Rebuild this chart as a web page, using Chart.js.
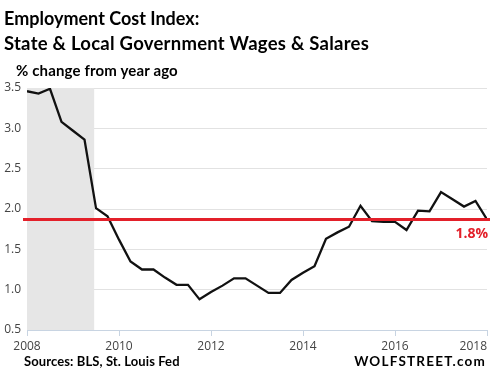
<!DOCTYPE html>
<html lang="en">
  <head>
    <meta charset="UTF-8" />
    <title>Employment Cost Index</title>
    <script src="https://cdn.jsdelivr.net/npm/chart.js"></script>
    <style>
      body {
        margin: 0;
        background: #fff;
      }
      .wrap {
        position: relative;
        width: 492px;
        height: 385px;
        font-family: Lato, sans-serif;
        font-weight: bold;
        color: #000;
      }
      .wrap canvas {
        position: absolute;
        left: 0;
        top: 0;
      }
      .txt {
        position: absolute;
        white-space: nowrap;
        line-height: 1;
      }
      #t1 { left: 4px; top: 9px; font-size: 18px; }
      #t2 { left: 4px; top: 34px; font-size: 18.5px; letter-spacing: 0.25px; }
      #sub { left: 16px; top: 63px; font-size: 15px; letter-spacing: 0.15px; }
      #src { left: 24px; top: 355px; font-size: 13px; letter-spacing: 0.1px; }
      #wolf { right: 6px; top: 355px; font-size: 13.5px; letter-spacing: 1.2px; }
    </style>
  </head>
  <body>
    <div class="wrap">
      <canvas id="eciChart" width="492" height="385"></canvas>
      <div class="txt" id="t1">Employment Cost Index:</div>
      <div class="txt" id="t2">State &amp; Local Government Wages &amp; Salares</div>
      <div class="txt" id="sub">% change from year ago</div>
      <div class="txt" id="src">Sources: BLS, St. Louis Fed</div>
      <div class="txt" id="wolf">WOLFSTREET.com</div>
    </div>

    <script>
      // quarterly, year-over-year % change
      const quarters = [
        2008.0, 2008.25, 2008.5, 2008.75, 2009.0, 2009.25, 2009.5, 2009.75,
        2010.0, 2010.25, 2010.5, 2010.75, 2011.0, 2011.25, 2011.5, 2011.75,
        2012.0, 2012.25, 2012.5, 2012.75, 2013.0, 2013.25, 2013.5, 2013.75,
        2014.0, 2014.25, 2014.5, 2014.75, 2015.0, 2015.25, 2015.5, 2015.75,
        2016.0, 2016.25, 2016.5, 2016.75, 2017.0, 2017.25, 2017.5, 2017.75,
        2018.0,
      ];
      const wageChange = [
        3.46, 3.43, 3.49, 3.08, 2.97, 2.86, 2.01, 1.91,
        1.62, 1.35, 1.25, 1.25, 1.15, 1.06, 1.06, 0.88,
        0.97, 1.05, 1.14, 1.14, 1.05, 0.96, 0.96, 1.12,
        1.21, 1.29, 1.63, 1.71, 1.78, 2.04, 1.85, 1.84,
        1.84, 1.74, 1.98, 1.97, 2.21, 2.12, 2.03, 2.10,
        1.87,
      ];
      const xTicks = [2008, 2010, 2012, 2014, 2016, 2018];
      const yTicks = [0.5, 1.0, 1.5, 2.0, 2.5, 3.0, 3.5];
      const recession = [2007.92, 2009.46];
      const latestLevel = 1.87;
      const latestLabel = "1.8%";

      const points = quarters.map((q, i) => ({ x: q, y: wageChange[i] }));

      // recession shading + red reference line + x labels
      const extras = {
        id: "extras",
        beforeDatasetsDraw(chart) {
          const { ctx, chartArea, scales } = chart;
          const x0 = Math.max(scales.x.getPixelForValue(recession[0]), chartArea.left);
          const x1 = scales.x.getPixelForValue(recession[1]);
          ctx.save();
          ctx.fillStyle = "#e6e6e6";
          ctx.fillRect(x0, chartArea.top, x1 - x0, chartArea.bottom - chartArea.top);
          ctx.restore();
        },
        afterDatasetsDraw(chart) {
          const { ctx, chartArea, scales } = chart;
          const y = scales.y.getPixelForValue(latestLevel);
          ctx.save();
          ctx.strokeStyle = "#e3202a";
          ctx.lineWidth = 3;
          ctx.beginPath();
          ctx.moveTo(chartArea.left - 4, y);
          ctx.lineTo(chartArea.right + 3, y);
          ctx.stroke();
          ctx.fillStyle = "#e3202a";
          ctx.font = "bold 14px 'Open Sans'";
          ctx.textAlign = "right";
          ctx.fillText(latestLabel, chartArea.right + 1, y + 19);
          ctx.restore();
        },
        afterDraw(chart) {
          const { ctx, scales } = chart;
          ctx.save();
          ctx.fillStyle = "#444";
          ctx.font = "12px 'Open Sans'";
          xTicks.forEach((t) => {
            const px = scales.x.getPixelForValue(t);
            const w = ctx.measureText(String(t)).width;
            if (px + w / 2 > chart.width - 4) {
              ctx.textAlign = "right";
            } else {
              ctx.textAlign = "center";
            }
            ctx.fillText(String(t), px, 350);
          });
          ctx.restore();
        },
      };

      new Chart(document.getElementById("eciChart"), {
        type: "line",
        data: {
          datasets: [
            {
              data: points,
              borderColor: "#111",
              borderWidth: 2.3,
              pointRadius: 0,
              tension: 0,
            },
          ],
        },
        options: {
          responsive: false,
          animation: false,
          layout: { padding: { top: 88, right: 5, left: 0, bottom: 0 } },
          plugins: { legend: { display: false }, tooltip: { enabled: false } },
          scales: {
            x: {
              type: "linear",
              min: 2008,
              max: 2018,
              afterBuildTicks: (s) => {
                s.ticks = xTicks.map((v) => ({ value: v }));
              },
              ticks: { display: false },
              grid: { drawOnChartArea: false, tickLength: 6, color: "#c8d4e2" },
              border: { color: "#c8d4e2" },
              afterFit: (s) => {
                s.height = 55;
                s.paddingLeft = 0;
                s.paddingRight = 0;
              },
            },
            y: {
              min: 0.5,
              max: 3.5,
              afterBuildTicks: (s) => {
                s.ticks = yTicks.map((v) => ({ value: v }));
              },
              ticks: {
                padding: 6,
                color: "#444",
                font: { family: "'Open Sans'", size: 12 },
                callback: (v) => v.toFixed(1),
              },
              grid: { color: "#e2e2e2", drawTicks: false },
              border: { display: false },
              afterFit: (s) => {
                s.width = 27;
              },
            },
          },
        },
        plugins: [extras],
      });
    </script>
  </body>
</html>
